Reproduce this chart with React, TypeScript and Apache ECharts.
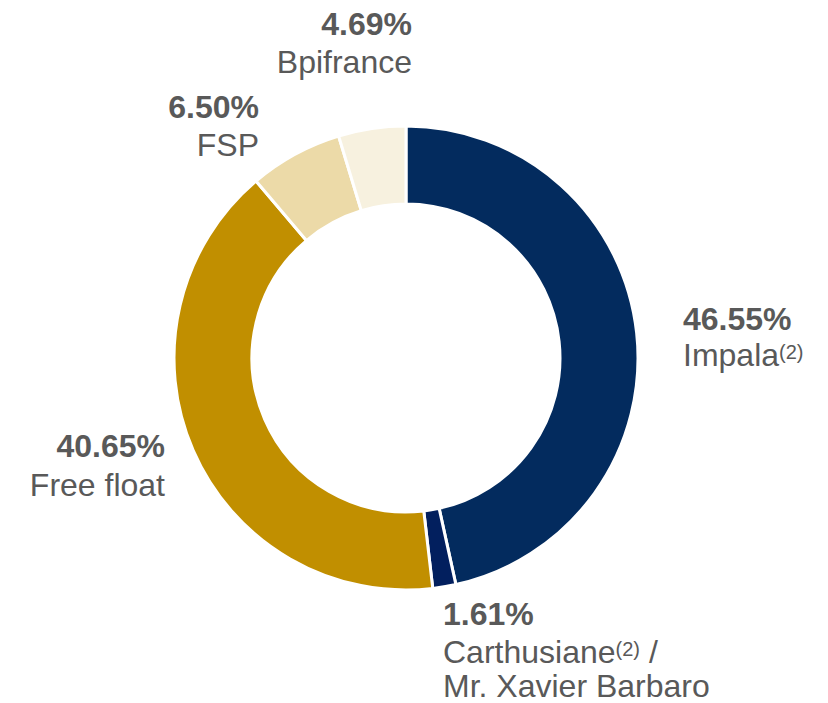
import React, { useEffect, useRef } from "react";
import * as echarts from "echarts";

const shareholders = ["Impala", "Carthusiane", "Free float", "FSP", "Bpifrance"];
const shares = [46.55, 1.61, 40.65, 6.5, 4.69];
const sliceColors = ["#032b5e", "#021f5e", "#c18f00", "#ecdaa8", "#f7f1df"];
// Label name lines ({sup|...} marks a footnote)
const labelNames: string[][] = [
  ["Impala{sup|(2)}"],
  ["Carthusiane{sup|(2)} /", "Mr. Xavier Barbaro"],
  ["Free float"],
  ["FSP"],
  ["Bpifrance"],
];

// Layout of each label: anchor x, alignment and the centre y of every line
const labelLayout = [
  { x: 683, align: "left", ys: [319, 354.5] },
  { x: 443, align: "left", ys: [613.5, 651.5, 686] },
  { x: 165, align: "right", ys: [445.5, 485] },
  { x: 259, align: "right", ys: [107, 144.5] },
  { x: 412, align: "right", ys: [24, 62] },
];

const TEXT = "#595959";
const FONT = "'Liberation Sans', Arial, Helvetica, sans-serif";

export default function App() {
  const ref = useRef<HTMLDivElement>(null);
  useEffect(() => {
    if (!ref.current) return;
    const chart = echarts.init(ref.current, undefined, { renderer: "svg" });
    const graphics: any[] = [];
    shares.forEach((v, i) => {
      const lay = labelLayout[i];
      const lines = [v.toFixed(2) + "%", ...labelNames[i]];
      lines.forEach((t, j) => {
        graphics.push({
          type: "text",
          x: lay.x,
          y: lay.ys[j],
          silent: true,
          style: {
            text: t,
            fill: TEXT,
            fontSize: 32,
            lineHeight: 32,
            fontWeight: j === 0 ? "bold" : "normal",
            fontFamily: FONT,
            align: lay.align,
            verticalAlign: "middle",
            rich: {
              sup: {
                fontSize: 20,
                fontFamily: FONT,
                fill: TEXT,
                verticalAlign: "middle",
                padding: [0, 0, 6, 0],
              },
            },
          },
        });
      });
    });
    chart.setOption({
      animation: false,
      series: [
        {
          type: "pie",
          center: [406, 358],
          radius: [154, 232],
          startAngle: 90,
          clockwise: true,
          silent: true,
          label: { show: false },
          labelLine: { show: false },
          itemStyle: { borderColor: "#ffffff", borderWidth: 3 },
          data: shareholders.map((n, i) => ({
            name: n,
            value: shares[i],
            itemStyle: { color: sliceColors[i] },
          })),
        },
      ],
      graphic: graphics,
    });
    return () => chart.dispose();
  }, []);
  return (
    <div
      ref={ref}
      style={{ position: "absolute", left: 0, top: 0, width: 828, height: 703 }}
    />
  );
}
